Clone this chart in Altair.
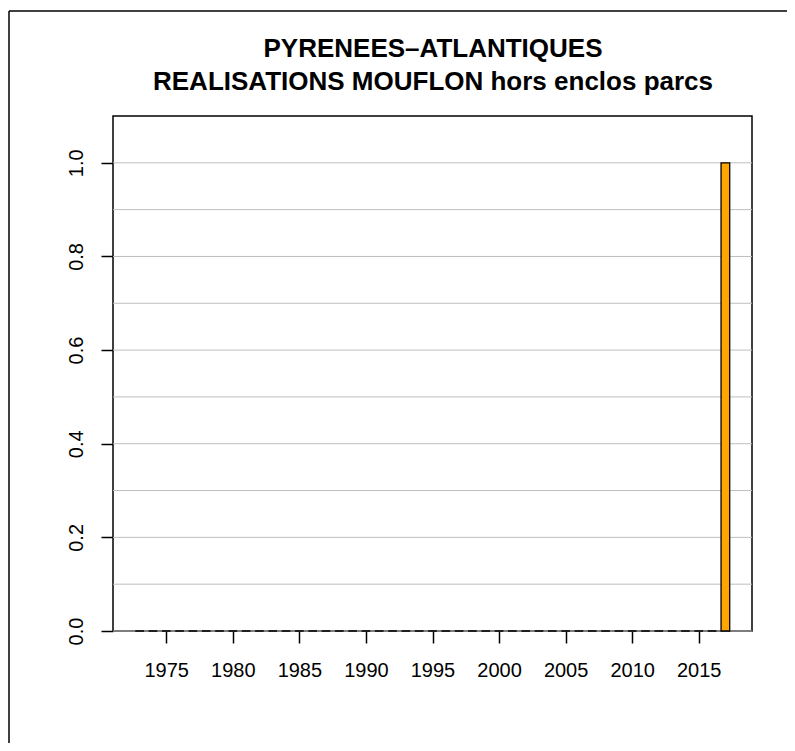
import altair as alt
import pandas as pd

# Data
years = list(range(1973, 2018))
values = [0] * 44 + [1]
grid_levels = [0.0, 0.1, 0.2, 0.3, 0.4, 0.5, 0.6, 0.7, 0.8, 0.9, 1.0]
y_ticks = [0.0, 0.2, 0.4, 0.6, 0.8, 1.0]
x_ticks = [1975, 1980, 1985, 1990, 1995, 2000, 2005, 2010, 2015]
title_lines = ["PYRENEES\u2013ATLANTIQUES", "REALISATIONS MOUFLON hors enclos parcs"]

half = 0.325
df = pd.DataFrame({"year": years, "value": values})
df["x0"] = df["year"] - half
df["x1"] = df["year"] + half
grid_df = pd.DataFrame({"level": grid_levels})

FONT = "Liberation Sans"

x_scale = alt.Scale(domain=[1971, 2019], nice=False, zero=False)
y_scale = alt.Scale(domain=[0, 1.1], nice=False, zero=True)

y_axis = alt.Axis(
    values=y_ticks, format=".1f", grid=False, domain=False,
    tickSize=12, tickWidth=1.5, tickColor="black",
    labelAngle=270, labelAlign="center", labelBaseline="bottom",
    labelPadding=15, labelFontSize=20, labelFont=FONT, labelColor="black",
    title=None,
)
x_axis = alt.Axis(
    values=x_ticks, format="d", grid=False, domain=False,
    tickSize=12, tickWidth=1.5, tickColor="black",
    labelPadding=17, labelFontSize=20, labelFont=FONT, labelColor="black",
    labelFlush=False, labelOverlap=False,
    title=None,
)

grid = alt.Chart(grid_df).mark_rule(color="#BEBEBE", strokeWidth=1).encode(
    y=alt.Y("level:Q", scale=y_scale, axis=y_axis),
)

bars = alt.Chart(df).mark_bar(color="#FFA500", stroke="black", strokeWidth=1.3).encode(
    x=alt.X("x0:Q", scale=x_scale, axis=x_axis),
    x2="x1:Q",
    y=alt.Y("value:Q", scale=y_scale, axis=y_axis),
    y2=alt.datum(0),
)

one = alt.Data(values=[{}])

title_text = alt.Chart(one).mark_text(
    text=title_lines, font=FONT, fontSize=26, fontWeight="bold", color="black",
    align="center", baseline="alphabetic", lineHeight=32.6,
).encode(x=alt.value(320), y=alt.value(-59))

border_top = alt.Chart(one).mark_rule(color="black", strokeWidth=1.5).encode(
    x=alt.value(-104), x2=alt.value(700), y=alt.value(-105)
)
border_left = alt.Chart(one).mark_rule(color="black", strokeWidth=1.5).encode(
    x=alt.value(-104), y=alt.value(-105), y2=alt.value(700)
)

chart = alt.layer(grid, bars, title_text, border_top, border_left).properties(
    width=639,
    height=515,
    autosize=alt.AutoSizeParams(type="none"),
    padding={"left": 105, "top": 108, "right": 35, "bottom": 112},
).configure(background="white").configure_view(stroke="black", strokeWidth=1.5)

chart.save("out.html", embed_options={"renderer": "svg", "actions": False})
